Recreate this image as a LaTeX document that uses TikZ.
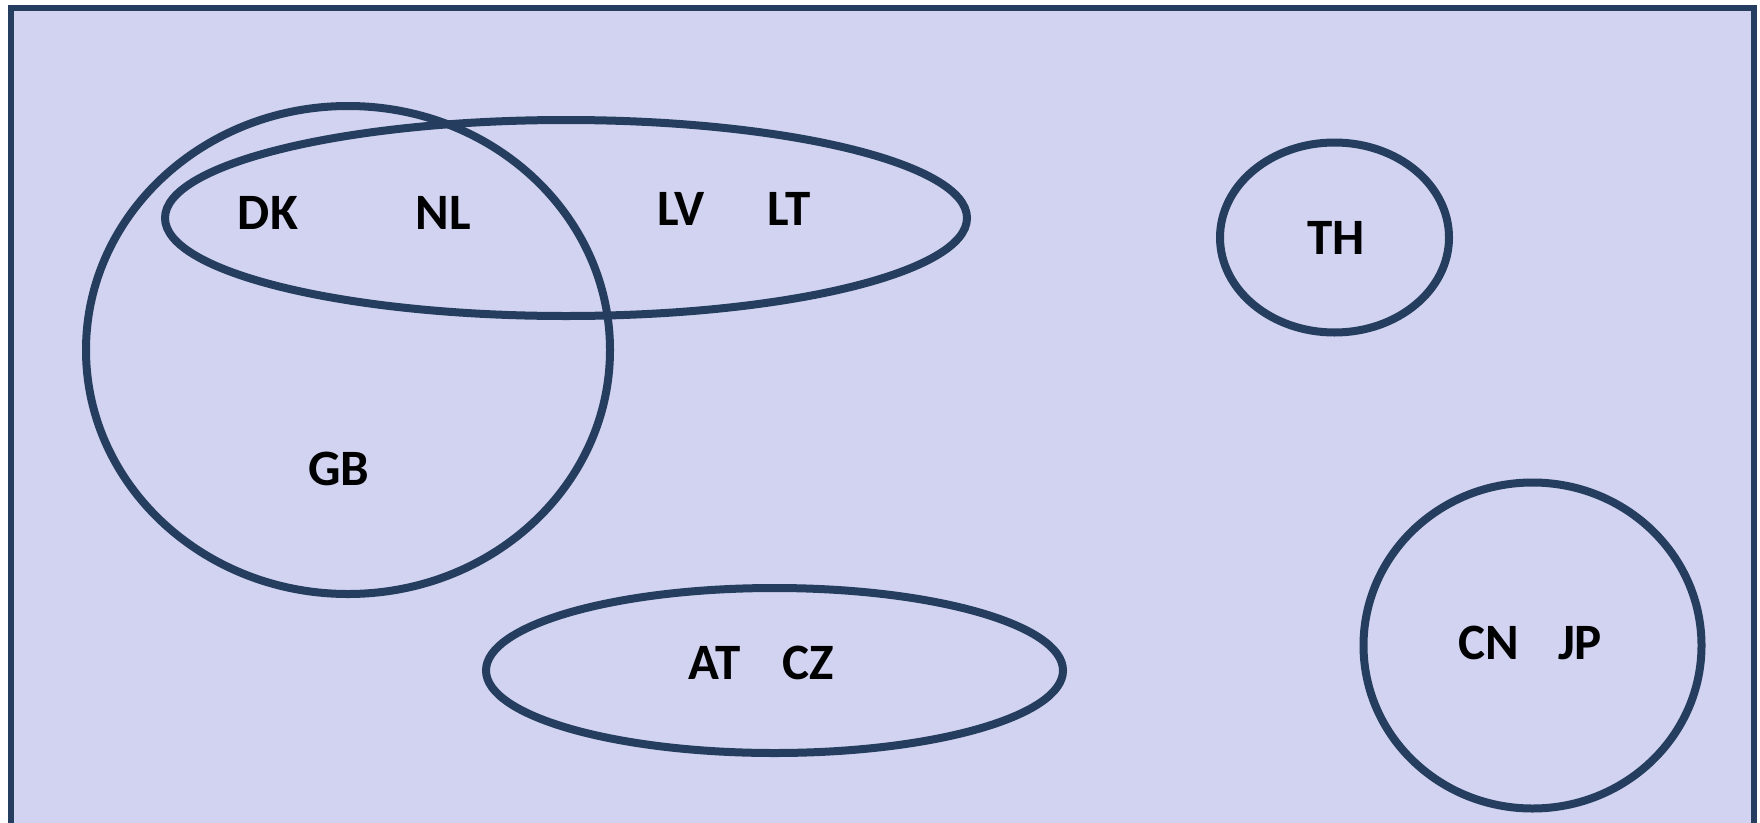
\documentclass[tikz,border=0pt]{standalone}
\usepackage{fontspec}
\setmainfont{Carlito}
\definecolor{setfill}{RGB}{209,211,240}
\definecolor{setline}{RGB}{37,61,94}
\begin{document}
\begin{tikzpicture}[x=1pt,y=-1pt,
  setring/.style={draw=setline,line width=8pt},
  code/.style={font=\bfseries\fontsize{51}{51}\selectfont,text=black,inner sep=0pt}]
\useasboundingbox (0,0) rectangle (1760,822);
% universe
\draw[draw=setline,fill=setfill,line width=6pt] (10.5,7.5) rectangle (1754,828);
% sets
\draw[setring] (348,350) ellipse [x radius=262,y radius=244];
\draw[setring] (566,218) ellipse [x radius=401,y radius=98];
\draw[setring] (1334.5,237.5) ellipse [x radius=114.5,y radius=95];
\draw[setring] (774.5,670.5) ellipse [x radius=288.5,y radius=82.5];
\draw[setring] (1532.5,645.5) ellipse [x radius=169,y radius=163];
% members
\node[code] (dk) at (268,213) {DK};
\node[code] (nl) at (443,213) {NL};
\node[code] (lv) at (681,209) {LV};
\node[code] (lt) at (789,209) {LT};
\node[code] (th) at (1336,238) {TH};
\node[code] (gb) at (339,469) {GB};
\node[code] (at) at (715,663) {AT};
\node[code] (cz) at (808,663) {CZ};
\node[code] (cn) at (1489,643) {CN};
\node[code] (jp) at (1580,643) {JP};
\end{tikzpicture}
\end{document}
